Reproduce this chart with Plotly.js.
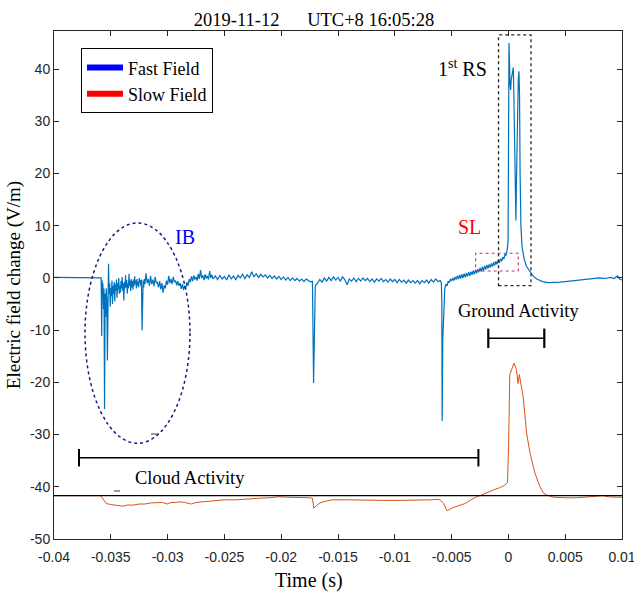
<!DOCTYPE html>
<html>
<head>
<meta charset="utf-8">
<script src="https://cdn.plot.ly/plotly-3.0.1.min.js"></script>
<style>html,body{margin:0;padding:0;background:#fff;}#chart{width:634px;height:595px;}</style>
</head>
<body>
<div id="chart"></div>
<script>
// ---- Fast field (time in s, value in V/m) ----
var fastT = [
-0.04,-0.0359,-0.03585,-0.0358,-0.03577,-0.03572,-0.0357,-0.03565,-0.0356,-0.03555,-0.0355,-0.03545,-0.0354,-0.03535,-0.0353,-0.03525,-0.0352,-0.03515,-0.0351,-0.03505,
-0.035,-0.03495,-0.0349,-0.03485,-0.0348,-0.03475,-0.0347,-0.03465,-0.0346,-0.03455,-0.0345,-0.03445,-0.0344,-0.03435,-0.0343,-0.03425,-0.0342,-0.03415,-0.0341,-0.03405,
-0.034,-0.03395,-0.0339,-0.03385,-0.0338,-0.03375,-0.0337,-0.03365,-0.0336,-0.03355,-0.0335,-0.03345,-0.0334,-0.03335,-0.0333,-0.03325,-0.0332,-0.03315,-0.0331,-0.03305,
-0.033,-0.03295,-0.0329,-0.03285,-0.0328,-0.03275,-0.0327,-0.03265,-0.0326,-0.03255,-0.0325,-0.03245,-0.0324,-0.03235,-0.0323,-0.03225,-0.0322,-0.03215,-0.0321,-0.03205,
-0.032,-0.0319,-0.0318,-0.0317,-0.0316,-0.0315,-0.0314,-0.0313,-0.0312,-0.0311,-0.031,-0.0309,-0.0308,-0.0307,-0.0306,-0.0305,-0.0304,-0.0303,-0.0302,-0.0301,
-0.03,-0.0299,-0.0298,-0.0297,-0.0296,-0.0295,-0.0294,-0.0293,-0.0292,-0.0291,-0.029,-0.0289,-0.0288,-0.0287,-0.0286,-0.0285,-0.0284,-0.0283,-0.0282,-0.0281,
-0.028,-0.0279,-0.0278,-0.0277,-0.0276,-0.0275,-0.0274,-0.0273,-0.0272,-0.0271,-0.027,-0.0269,-0.0268,-0.0267,-0.0266,-0.0265,-0.0264,-0.0263,-0.0262,-0.0261,
-0.026,-0.0258,-0.0256,-0.0254,-0.0252,-0.025,-0.0248,-0.0246,-0.0244,-0.0242,-0.024,-0.0238,-0.0236,-0.0234,-0.0232,-0.023,-0.0228,-0.0226,-0.0224,-0.0222,
-0.022,-0.0218,-0.0216,-0.0214,-0.0212,-0.021,-0.0208,-0.0206,-0.0204,-0.0202,-0.02,-0.0198,-0.0196,-0.0194,-0.0192,-0.019,-0.0188,-0.0186,-0.0184,-0.0182,
-0.018,-0.0178,-0.0176,-0.0174,-0.01725,-0.0172,-0.01715,-0.0171,-0.01705,-0.017,-0.0168,-0.0166,-0.0164,-0.0162,-0.016,-0.0158,-0.0156,-0.0154,-0.0152,-0.015,
-0.0148,-0.0146,-0.0144,-0.0142,-0.014,-0.0138,-0.0136,-0.0134,-0.0132,-0.013,-0.0128,-0.0126,-0.0124,-0.0122,-0.012,-0.0118,-0.0116,-0.0114,-0.0112,-0.011,
-0.0108,-0.0106,-0.0104,-0.0102,-0.01,-0.0098,-0.0096,-0.0094,-0.0092,-0.009,-0.0088,-0.0086,-0.0084,-0.0082,-0.008,-0.0078,-0.0076,-0.0074,-0.0072,-0.007,
-0.0068,-0.0066,-0.0064,-0.0062,-0.006,-0.0059,-0.00586,-0.00583,-0.00578,-0.0057,-0.0056,-0.0055,-0.0054,-0.0053,-0.0052,-0.0051,-0.005,-0.0049,-0.0048,-0.0047,
-0.0046,-0.0045,-0.0044,-0.0043,-0.0042,-0.0041,-0.004,-0.0039,-0.0038,-0.0037,-0.0036,-0.0035,-0.0034,-0.0033,-0.0032,-0.0031,-0.003,-0.0029,-0.0028,-0.0027,
-0.0026,-0.0025,-0.0024,-0.0023,-0.0022,-0.0021,-0.002,-0.0019,-0.0018,-0.0017,-0.0016,-0.0015,-0.0014,-0.0013,-0.0012,-0.0011,-0.001,-0.0009,-0.0008,-0.0007,
-0.0006,-0.0005,-0.0004,-0.0003,-0.0002,-0.0001,-0.00003,0.00001,0.00005,0.00009,0.00014,0.0002,0.00025,0.0003,0.00038,0.00043,0.00048,0.00055,0.0006,0.00066,
0.00072,0.0008,0.00087,0.00093,0.00098,0.00103,0.0011,0.0012,0.0013,0.0014,0.0016,0.0018,0.002,0.0022,0.0025,0.0028,0.003,0.0035,0.004,0.0045,
0.005,0.0055,0.006,0.0065,0.007,0.0075,0.008,0.0085,0.009,0.0093,0.0096,0.0098,0.01
];
var fastV = [
0.1,0.1,0,-11.1,-0.5,-3,-1,-6,-2,-25.1,-3,-7.5,-2,-4,-15.8,-2,2.7,-3,-1,-5.5,
-2,-3.5,-0.5,-5,-1.5,-3,-0.8,-4.5,-1.2,-2.5,-0.3,-3.8,-1,-2.2,0,-3,-1.5,-2.8,-0.6,-2,
0.2,-2.5,-1,-4.3,-0.8,-2,0.5,-1.8,-0.4,-3,-1,-2,0.8,-1.5,-0.5,-2.5,-0.2,-1.8,-0.6,-2.2,
-0.3,-1.5,0.3,-1.2,-0.5,-2,-0.2,-1.5,-0.8,-1.8,0,-1,-0.4,-1.6,-0.3,-10,-1.5,-0.5,-1.8,-0.2,
-1.2,0.9,-1,-0.2,-1.5,0.4,-1.2,-0.3,-1.6,0.2,-1,-0.8,-1.8,-0.6,-2.2,-1,-2.8,-1.4,-2,-0.5,
-1.3,0.4,-1,-0.2,-1.2,0.2,-0.8,-0.5,-1.4,-0.6,-1.5,-1,-2.1,-1.2,-2.3,-1.5,-2,-0.8,-1.5,-0.2,
-0.8,0.3,-0.6,0.5,-0.3,0.2,-0.5,0.8,-0.2,1.5,0,0.5,-0.4,0.7,-0.1,0.4,-0.3,1.3,0,0.6,
-0.2,0.4,-0.3,0.5,-0.2,0.3,-0.4,0.6,-0.2,0.4,-0.3,0.5,0,0.7,-0.1,0.6,0.1,1.2,0.2,0.8,
0.1,0.7,0.2,0.6,0,0.5,-0.1,0.4,-0.2,0.3,-0.3,0.2,-0.4,0.1,-0.5,0,-0.5,-0.1,-0.6,-0.2,
-0.7,-0.2,-0.5,-0.8,-0.6,-15,-20.1,-14,-3,-1.5,-1,-0.3,-0.8,0,-0.6,0.1,-0.5,0.2,-0.4,0.1,
-0.6,0.2,-0.3,-1.3,-0.2,-0.6,0,-0.7,-0.1,-0.6,0,-0.5,-0.1,-0.7,-0.2,-0.8,-0.2,-0.6,-0.1,-0.7,
-0.3,-0.8,-0.2,-0.7,-0.3,-0.9,-0.3,-0.8,-0.4,-1,-0.4,-0.9,-0.5,-1,-0.5,-1.1,-0.5,-0.9,-0.4,-1,
-0.3,-0.8,-0.2,-0.7,-0.5,-1,-5,-27.4,-12,-5,-2,-1.2,-1.5,-0.6,-0.9,-0.2,-0.6,0,-0.5,0.2,
-0.3,0.4,-0.2,0.6,-0.1,0.7,0,0.8,0.1,0.9,0.3,1.1,0.4,1.2,0.6,1.4,0.7,1.6,0.9,1.7,
1.1,1.9,1.2,2.1,1.4,2.3,1.6,2.5,1.8,2.6,2,2.8,2.2,3,2.4,3.2,2.6,3.4,2.9,3.7,
3.2,4,3.6,4.5,4.3,5.5,7,25,45,42,37,36,38,39,39.5,40.3,35,25,15,11,
20,32,38,39.6,35,20,10,6,4.5,3.5,2.2,1.5,0.8,0.3,-0.2,-0.5,-0.7,-0.9,-0.9,-0.8,
-0.7,-0.6,-0.5,-0.4,-0.3,-0.2,0,-0.1,0.1,-0.1,0.4,-0.2,-0.4
];

// ---- Slow field ----
var slowT = [
-0.04,-0.0359,-0.0357,-0.0354,-0.035,-0.0345,-0.034,-0.0335,-0.033,-0.0325,-0.032,-0.0315,-0.031,-0.0305,-0.03,-0.0297,-0.0293,-0.029,-0.0285,-0.0279,
-0.0275,-0.027,-0.026,-0.025,-0.024,-0.023,-0.022,-0.021,-0.0202,-0.0195,-0.0185,-0.0175,-0.01725,-0.01713,-0.0169,-0.0166,-0.016,-0.0155,-0.014,-0.0125,
-0.011,-0.0095,-0.008,-0.0068,-0.0063,-0.006,-0.0057,-0.0054,-0.0049,-0.0044,-0.0038,-0.0033,-0.0028,-0.0024,-0.002,-0.0016,-0.0012,-0.0008,-0.0004,-0.00008,
0.00002,0.00012,0.00025,0.0005,0.0007,0.00085,0.00096,0.0011,0.0013,0.0016,0.0019,0.00234,0.00278,0.0031,0.0034,0.004,0.0045,0.005,0.006,0.007,
0.0078,0.0083,0.0088,0.0095,0.01
];
var slowV = [
-41.7,-41.7,-42.3,-43.2,-43.4,-43.6,-43.7,-43.5,-43.5,-43.3,-43.3,-43.1,-43.0,-43.0,-43.3,-43.0,-43.0,-42.9,-43.0,-43.3,
-43.0,-42.9,-42.7,-42.5,-42.5,-42.3,-42.2,-42.1,-41.9,-42.0,-42.0,-42.1,-42.2,-44.1,-43.6,-43.1,-42.7,-42.5,-42.5,-42.6,
-42.6,-42.6,-42.6,-42.5,-42.4,-42.5,-43.2,-44.6,-44.0,-43.6,-43.2,-42.5,-41.9,-41.6,-41.2,-40.8,-40.5,-40.2,-39.8,-39.2,
-32,-18.5,-17.6,-16.3,-17.5,-20.2,-18.5,-20,-22.7,-29.7,-33.5,-37.4,-40.0,-41.2,-41.6,-42.0,-42.1,-42.1,-42.1,-42.0,
-41.8,-41.7,-41.9,-42.0,-42.0
];

// ---- Axis ticks ----
var xTickVals = [-0.04,-0.035,-0.03,-0.025,-0.02,-0.015,-0.01,-0.005,0,0.005,0.01];
var xTickText = ["-0.04","-0.035","-0.03","-0.025","-0.02","-0.015","-0.01","-0.005","0","0.005","0.01"];
var yTickVals = [-50,-40,-30,-20,-10,0,10,20,30,40];
var yTickText = ["-50","-40","-30","-20","-10","0","10","20","30","40"];

// ---- Annotation anchors (data units) ----
var baselineY = -41.7;
var cloudBar = {x0: -0.0378, x1: -0.00264, y: -34.43, cap: 1.67};
var groundBar = {x0: -0.00177, x1: 0.00316, y: -11.55, cap: 1.85};
var ibEllipse = {x0: -0.03727, x1: -0.02803, y0: -31.67, y1: 10.54};
var rsBox = {x0: -0.00087, x1: 0.00199, y0: -1.48, y1: 46.55};
var slBox = {x0: -0.00288, x1: 0.00087, y0: 1.34, y1: 4.73};

var serif = 'Liberation Serif, Times New Roman, serif';
var sans = 'Liberation Sans, Arial, sans-serif';

var traces = [
  {x: fastT, y: fastV, type: 'scatter', mode: 'lines', line: {color: '#0072BD', width: 1.2}, showlegend: false, hoverinfo: 'skip'},
  {x: slowT, y: slowV, type: 'scatter', mode: 'lines', line: {color: '#D95319', width: 1}, showlegend: false, hoverinfo: 'skip'},
  {x: [null], y: [null], type: 'scatter', mode: 'lines', name: 'Fast Field', line: {color: '#0000FF', width: 6}},
  {x: [null], y: [null], type: 'scatter', mode: 'lines', name: 'Slow Field', line: {color: '#FF0000', width: 6}}
];

function seg(x0, y0, x1, y1, color, width, dash) {
  return {type: 'line', xref: 'x', yref: 'y', x0: x0, y0: y0, x1: x1, y1: y1,
    line: {color: color, width: width, dash: dash || 'solid'}};
}

var shapes = [
  seg(-0.04, baselineY, 0.01, baselineY, '#000000', 1.3),
  seg(cloudBar.x0, cloudBar.y, cloudBar.x1, cloudBar.y, '#000000', 1.6),
  seg(cloudBar.x0, cloudBar.y - cloudBar.cap, cloudBar.x0, cloudBar.y + cloudBar.cap, '#000000', 2),
  seg(cloudBar.x1, cloudBar.y - cloudBar.cap, cloudBar.x1, cloudBar.y + cloudBar.cap, '#000000', 2),
  seg(groundBar.x0, groundBar.y, groundBar.x1, groundBar.y, '#000000', 1.6),
  seg(groundBar.x0, groundBar.y - groundBar.cap, groundBar.x0, groundBar.y + groundBar.cap, '#000000', 2.2),
  seg(groundBar.x1, groundBar.y - groundBar.cap, groundBar.x1, groundBar.y + groundBar.cap, '#000000', 2.2),
  seg(-0.03472, -40.8, -0.03419, -40.8, '#333333', 1),
  seg(-0.03146, -29.9, -0.03076, -29.9, '#333333', 1),
  {type: 'circle', xref: 'x', yref: 'y', x0: ibEllipse.x0, x1: ibEllipse.x1, y0: ibEllipse.y0, y1: ibEllipse.y1,
    line: {color: '#1A1A80', width: 1.5, dash: 'dot'}},
  {type: 'rect', xref: 'x', yref: 'y', x0: rsBox.x0, x1: rsBox.x1, y0: rsBox.y0, y1: rsBox.y1,
    line: {color: '#222222', width: 1.3, dash: 'dot'}},
  {type: 'rect', xref: 'x', yref: 'y', x0: slBox.x0, x1: slBox.x1, y0: slBox.y0, y1: slBox.y1,
    line: {color: '#C8336A', width: 1.1, dash: 'dot'}}
];

function ann(text, x, y, color, size) {
  return {text: text, x: x, y: y, xref: 'x', yref: 'y', showarrow: false,
    xanchor: 'center', yanchor: 'middle', font: {family: serif, size: size, color: color}};
}

var annotations = [
  ann('1<sup>st</sup> RS', -0.00408, 40.3, '#000000', 20),
  ann('IB', -0.02847, 7.85, '#0000FF', 20),
  ann('SL', -0.00342, 9.67, '#FF0000', 20),
  ann('Ground Activity', 0.00096, -6.3, '#000000', 18.5),
  ann('Cloud Activity', -0.02803, -38.3, '#000000', 18.5),
  {text: 'Time (s)', xref: 'paper', yref: 'paper', x: (309 - 54) / 568, y: -(580 - 539) / 508,
    xanchor: 'center', yanchor: 'middle', showarrow: false, font: {family: serif, size: 20, color: '#000000'}}
];

var axisCommon = {
  showline: true, linecolor: '#262626', linewidth: 1, mirror: 'ticks',
  ticks: 'inside', ticklen: 5, tickwidth: 1, tickcolor: '#262626',
  showgrid: false, zeroline: false, ticklabeloverflow: 'allow',
  tickfont: {family: sans, size: 14, color: '#262626'}
};

var layout = {
  width: 634, height: 595,
  margin: {l: 54, r: 12, t: 31, b: 56, pad: 0},
  paper_bgcolor: '#ffffff', plot_bgcolor: '#ffffff',
  title: {text: '2019-11-12\u00A0\u00A0\u00A0\u00A0\u00A0\u00A0UTC+8 16:05:28', font: {family: serif, size: 18.5, color: '#000000'},
    xref: 'paper', x: (314 - 54) / 568, xanchor: 'center', yref: 'container', y: 1 - 20 / 595, yanchor: 'middle'},
  xaxis: Object.assign({}, axisCommon, {
    range: [-0.0400001, 0.0100001], tickmode: 'array', tickvals: xTickVals, ticktext: xTickText,
    ticklabelstandoff: 5
  }),
  yaxis: Object.assign({}, axisCommon, {
    range: [-50, 47.3], tickmode: 'array', tickvals: yTickVals, ticktext: yTickText,
    title: {text: 'Electric field change (V/m)', font: {family: serif, size: 19, color: '#000000'}, standoff: 4}
  }),
  showlegend: true,
  legend: {x: 0.0475, y: 0.966, xanchor: 'left', yanchor: 'top', bgcolor: '#ffffff',
    bordercolor: '#000000', borderwidth: 1, font: {family: serif, size: 18, color: '#000000'},
    itemwidth: 36, tracegroupgap: 0},
  shapes: shapes,
  annotations: annotations
};

Plotly.newPlot('chart', traces, layout, {staticPlot: true, displayModeBar: false});
</script>
</body>
</html>
